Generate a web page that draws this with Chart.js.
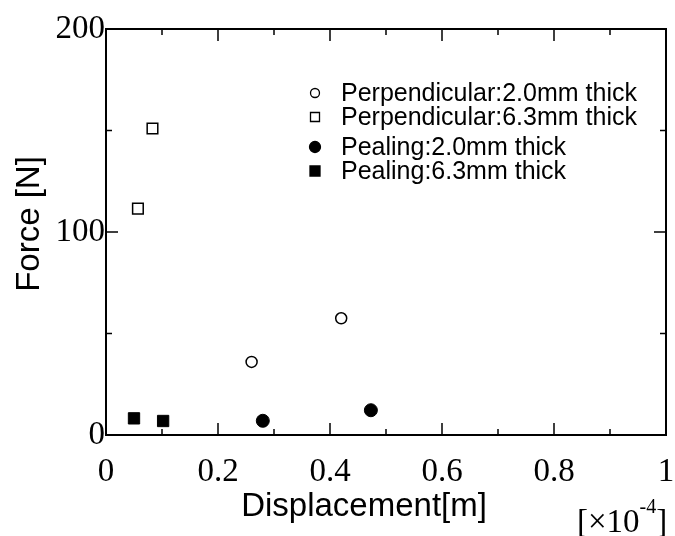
<!DOCTYPE html>
<html>
<head>
<meta charset="utf-8">
<script src="https://cdn.jsdelivr.net/npm/chart.js@4.4.1/dist/chart.umd.min.js"></script>
<style>
  html, body { margin: 0; padding: 0; background: #fff; }
  #wrap { width: 675px; height: 536px; position: relative; }
</style>
</head>
<body>
<div id="wrap"><canvas id="force-chart" width="675" height="536"></canvas></div>
<script>
// Force vs displacement, four specimen groups

const seriesLabels = [
    'Perpendicular:2.0mm thick',
    'Perpendicular:6.3mm thick',
    'Pealing:2.0mm thick',
    'Pealing:6.3mm thick'
];

// displacement in units of 1e-4 m, force in N
const perp20X = [0.26, 0.42];
const perp20Y = [36, 57.5];
const perp63X = [0.057, 0.083];
const perp63Y = [111.5, 151];
const peal20X = [0.28, 0.473];
const peal20Y = [7, 12.2];
const peal63X = [0.05, 0.102];
const peal63Y = [8.2, 6.9];

const xTickLabels = ['0', '0.2', '0.4', '0.6', '0.8', '1'];
const yTickLabels = ['0', '100', '200'];
const xTitle = 'Displacement[m]';
const yTitle = 'Force [N]';

const SERIF = '"Liberation Serif", "Times New Roman", serif';
const SANS = '"Liberation Sans", Arial, sans-serif';

function toPoints(xs, ys) {
    return xs.map((x, i) => ({ x: x, y: ys[i] }));
}

const markerStyles = [
    { pointStyle: 'circle', radius: 5.5, fill: '#fff', lw: 1.5 },
    { pointStyle: 'rect', radius: 7.5, fill: '#fff', lw: 1.5 },
    { pointStyle: 'circle', radius: 6.5, fill: '#000', lw: 1 },
    { pointStyle: 'rect', radius: 8, fill: '#000', lw: 1 }
];

const seriesData = [
    toPoints(perp20X, perp20Y),
    toPoints(perp63X, perp63Y),
    toPoints(peal20X, peal20Y),
    toPoints(peal63X, peal63Y)
];

// frame, inward ticks, axis titles, legend inside plot and the x10^-4 note
const framePlugin = {
    id: 'frame',
    afterDraw(chart) {
        const ctx = chart.ctx;
        const a = chart.chartArea;
        const xs = chart.scales.x;
        const ys = chart.scales.y;
        ctx.save();
        ctx.strokeStyle = '#000';
        ctx.lineWidth = 2;
        ctx.strokeRect(a.left, a.top, a.right - a.left, a.bottom - a.top);

        ctx.lineWidth = 1.5;
        xs.ticks.forEach((t, i) => {
            const px = xs.getPixelForValue(t.value);
            const len = i % 2 === 0 ? 12 : 6;
            ctx.beginPath();
            ctx.moveTo(px, a.bottom); ctx.lineTo(px, a.bottom - len);
            ctx.moveTo(px, a.top); ctx.lineTo(px, a.top + len);
            ctx.stroke();
        });
        ys.ticks.forEach((t, i) => {
            const py = ys.getPixelForValue(t.value);
            const len = i % 2 === 0 ? 12 : 6;
            ctx.beginPath();
            ctx.moveTo(a.left, py); ctx.lineTo(a.left + len, py);
            ctx.moveTo(a.right, py); ctx.lineTo(a.right - len, py);
            ctx.stroke();
        });

        // axis titles (sit a little left / low of centre in the original)
        ctx.fillStyle = '#000';
        ctx.font = '33px ' + SANS;
        ctx.textAlign = 'center';
        ctx.textBaseline = 'middle';
        ctx.fillText(xTitle, 364, 507);
        ctx.save();
        ctx.translate(30, 224);
        ctx.rotate(-Math.PI / 2);
        ctx.fillText(yTitle, 0, 0);
        ctx.restore();

        // legend
        const rowsY = [93, 117, 147, 171];
        ctx.font = '25px ' + SANS;
        ctx.textAlign = 'left';
        seriesLabels.forEach((label, i) => {
            const m = markerStyles[i];
            const cx = 315, cy = rowsY[i];
            ctx.beginPath();
            if (m.pointStyle === 'circle') {
                ctx.arc(cx, cy, m.fill === '#000' ? 5.5 : 4.5, 0, Math.PI * 2);
            } else {
                const h = m.fill === '#000' ? 5 : 4.5;
                ctx.rect(cx - h, cy - h, 2 * h, 2 * h);
            }
            ctx.fillStyle = m.fill;
            ctx.fill();
            ctx.lineWidth = 1.3;
            ctx.stroke();
            ctx.fillStyle = '#000';
            ctx.fillText(label, 341, cy + 1);
        });

        // exponent note
        ctx.textBaseline = 'alphabetic';
        ctx.font = '33px ' + SERIF;
        const base = '[\u00d710';
        ctx.fillText(base, 577, 532);
        let w = ctx.measureText(base).width;
        ctx.font = '20px ' + SERIF;
        ctx.fillText('-4', 577 + w, 513);
        w += ctx.measureText('-4').width;
        ctx.font = '33px ' + SERIF;
        ctx.fillText(']', 577 + w, 532);
        ctx.restore();
    }
};

const ctx = document.getElementById('force-chart').getContext('2d');

new Chart(ctx, {
    type: 'scatter',
    data: {
        datasets: seriesData.map((pts, i) => ({
            label: seriesLabels[i],
            data: pts,
            pointStyle: markerStyles[i].pointStyle,
            pointRadius: markerStyles[i].radius,
            pointHoverRadius: markerStyles[i].radius,
            pointBackgroundColor: markerStyles[i].fill,
            pointBorderColor: '#000',
            pointBorderWidth: markerStyles[i].lw
        }))
    },
    options: {
        responsive: false,
        animation: false,
        layout: { padding: { top: 29, right: 7, left: 0, bottom: 0 } },
        plugins: {
            legend: { display: false },
            tooltip: { enabled: false }
        },
        scales: {
            x: {
                type: 'linear',
                min: 0,
                max: 1,
                grid: { display: false, drawTicks: false },
                border: { display: false },
                ticks: {
                    stepSize: 0.1,
                    autoSkip: false,
                    maxRotation: 0,
                    padding: 18,
                    color: '#000',
                    font: { family: SERIF, size: 33 },
                    callback: (v, i) => (i % 2 === 0 ? xTickLabels[i / 2] : '')
                },
                afterFit(scale) {
                    scale.height = 101;
                    scale.paddingLeft = 0;
                    scale.paddingRight = 0;
                }
            },
            y: {
                type: 'linear',
                min: 0,
                max: 200,
                grid: { display: false, drawTicks: false },
                border: { display: false },
                ticks: {
                    stepSize: 50,
                    autoSkip: false,
                    padding: 1,
                    color: '#000',
                    font: { family: SERIF, size: 33 },
                    callback: (v, i) => (i % 2 === 0 ? yTickLabels[i / 2] : '')
                },
                afterFit(scale) {
                    scale.width = 106;
                    scale.paddingTop = 0;
                    scale.paddingBottom = 0;
                }
            }
        }
    },
    plugins: [framePlugin]
});
</script>
</body>
</html>
